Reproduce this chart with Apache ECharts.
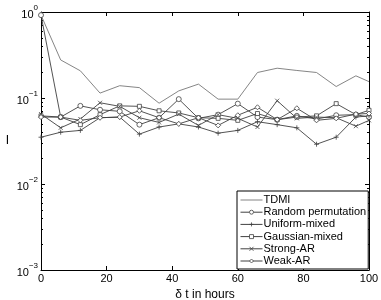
<!DOCTYPE html>
<html><head><meta charset="utf-8">
<script src="https://cdn.jsdelivr.net/npm/echarts@6/dist/echarts.min.js"></script>
<style>html,body{margin:0;padding:0;background:#fff}#c{width:381px;height:300px}</style>
</head><body><div id="c"></div>
<script>
var xs = [0, 6, 12, 18, 24, 30, 36, 42, 48, 54, 60, 66, 72, 78, 84, 90, 96, 100];
var tdmi     = [0.92, 0.277, 0.207, 0.114, 0.139, 0.132, 0.087, 0.121, 0.145, 0.097, 0.097, 0.198, 0.222, 0.209, 0.198, 0.136, 0.181, 0.155];
var randPerm = [0.92, 0.060, 0.081, 0.073, 0.070, 0.049, 0.059, 0.097, 0.058, 0.064, 0.086, 0.060, 0.056, 0.062, 0.057, 0.063, 0.064, 0.060];
var uniform  = [0.035, 0.040, 0.042, 0.059, 0.060, 0.038, 0.046, 0.050, 0.046, 0.039, 0.042, 0.053, 0.049, 0.045, 0.029, 0.035, 0.060, 0.062];
var gauss    = [0.062, 0.060, 0.049, 0.064, 0.081, 0.080, 0.071, 0.067, 0.059, 0.058, 0.055, 0.066, 0.056, 0.060, 0.062, 0.086, 0.064, 0.072];
var strongAR = [0.065, 0.045, 0.057, 0.088, 0.080, 0.059, 0.052, 0.065, 0.048, 0.064, 0.058, 0.046, 0.093, 0.058, 0.060, 0.059, 0.047, 0.055];
var weakAR   = [0.060, 0.060, 0.055, 0.059, 0.060, 0.071, 0.059, 0.050, 0.059, 0.048, 0.063, 0.078, 0.056, 0.076, 0.055, 0.058, 0.065, 0.066];
var names = ['TDMI', 'Random permutation', 'Uniform-mixed', 'Gaussian-mixed', 'Strong-AR', 'Weak-AR'];
var xTicks = [0, 20, 40, 60, 80, 100];

var minorVals = [];
[0.001, 0.01, 0.1].forEach(function (d) { for (var k = 2; k <= 9; k++) minorVals.push(+(d * k).toPrecision(3)); });

function pairs(arr) { return xs.map(function (x, i) { return [x, arr[i]]; }); }
var FONT = 'Liberation Sans';
var LC = '#404040';
var TC = '#777777';
var plusPath = 'path://M5,0L5,10M0,5L10,5';
var xPath = 'path://M0,0L10,10M10,0L0,10';

function mk(name, data, symbol, size, lineColor) {
  var c = lineColor || LC;
  return {
    name: name, type: 'line', data: pairs(data),
    symbol: symbol, symbolSize: size, showSymbol: symbol !== 'none',
    lineStyle: { color: c, width: 0.9 },
    itemStyle: { color: symbol.indexOf('path') === 0 ? 'rgba(0,0,0,0)' : '#fff', borderColor: c, borderWidth: 0.8 },
    emphasis: { disabled: true }, animation: false, z: 3
  };
}

var axisCommon = { min: 0.001, max: 1, type: 'log', logBase: 10 };
var chart = echarts.init(document.getElementById('c'), null, { renderer: 'canvas' });
chart.setOption({
  backgroundColor: '#fff',
  animation: false,
  grid: { left: 41, right: 12, top: 12, bottom: 30, outerBoundsMode: 'none', containLabel: false },
  xAxis: [
    { type: 'value', min: 0, max: 100, interval: 20,
      name: 'δ t in hours', nameLocation: 'middle', nameGap: 13,
      nameTextStyle: { fontFamily: FONT, fontSize: 12, color: '#000' },
      axisLine: { lineStyle: { color: '#000', width: 1 } },
      axisTick: { inside: true, length: 4, lineStyle: { color: '#000' } },
      axisLabel: { fontFamily: FONT, fontSize: 11, color: '#000', margin: 3 },
      splitLine: { show: false } },
    { type: 'value', min: 0, max: 100, interval: 20, position: 'top',
      axisLine: { lineStyle: { color: '#000', width: 1 } },
      axisTick: { inside: true, length: 4, lineStyle: { color: '#000' } },
      axisLabel: { show: false }, splitLine: { show: false } }
  ],
  yAxis: [
    Object.assign({}, axisCommon, {
      position: 'left',
      name: 'I', nameLocation: 'middle', nameGap: 32, nameRotate: 0,
      nameTextStyle: { fontFamily: FONT, fontSize: 12, color: '#000' },
      axisLine: { show: true, lineStyle: { color: '#000', width: 1 } },
      axisTick: { show: true, inside: true, length: 4, lineStyle: { color: '#000' } },
      axisLabel: { margin: 3, fontFamily: FONT, color: '#000',
        formatter: function (v) { var e = Math.round(Math.log10(v)); return '{b|10}{s|' + (e < 0 ? '−' + (-e) : e) + '}'; },
        rich: { b: { fontFamily: FONT, fontSize: 11, color: '#000', lineHeight: 16, verticalAlign: 'bottom' },
                s: { fontFamily: FONT, fontSize: 8, color: '#000', lineHeight: 16, verticalAlign: 'top' } } },
      splitLine: { show: false } }),
    Object.assign({}, axisCommon, {
      position: 'left',
      axisLine: { show: false },
      axisTick: { show: true, inside: true, length: 2, customValues: minorVals, lineStyle: { color: '#000' } },
      axisLabel: { show: false }, splitLine: { show: false } }),
    Object.assign({}, axisCommon, {
      position: 'right',
      axisLine: { show: true, lineStyle: { color: '#000', width: 1 } },
      axisTick: { show: true, inside: true, length: 4, lineStyle: { color: '#000' } },
      axisLabel: { show: false }, splitLine: { show: false } }),
    Object.assign({}, axisCommon, {
      position: 'right',
      axisLine: { show: false },
      axisTick: { show: true, inside: true, length: 2, customValues: minorVals, lineStyle: { color: '#000' } },
      axisLabel: { show: false }, splitLine: { show: false } })
  ],
  legend: {
    data: [
      { name: names[0], icon: 'path://M0,0L24,0L24,1L0,1Z', itemStyle: { color: TC, borderWidth: 0 } },
      names[1], names[2], names[3], names[4], names[5]
    ],
    orient: 'vertical', left: 237, top: 191,
    backgroundColor: '#fff', borderColor: '#000', borderWidth: 1, borderRadius: 0,
    padding: [3, 2, 2, 3], itemWidth: 22, itemHeight: 5, itemGap: 0.2,
    lineStyle: { width: 1 },
    itemStyle: { borderWidth: 0.8 },
    textStyle: { fontFamily: FONT, fontSize: 11, lineHeight: 12, color: '#000', padding: [0, 0, 0, -4] },
    selectedMode: false
  },
  series: [
    mk(names[0], tdmi, 'none', 0, TC),
    mk(names[1], randPerm, 'circle', 5),
    mk(names[2], uniform, plusPath, 5),
    mk(names[3], gauss, 'rect', 4),
    mk(names[4], strongAR, xPath, 4),
    mk(names[5], weakAR, 'diamond', 5)
  ]
});
</script>
</body></html>
